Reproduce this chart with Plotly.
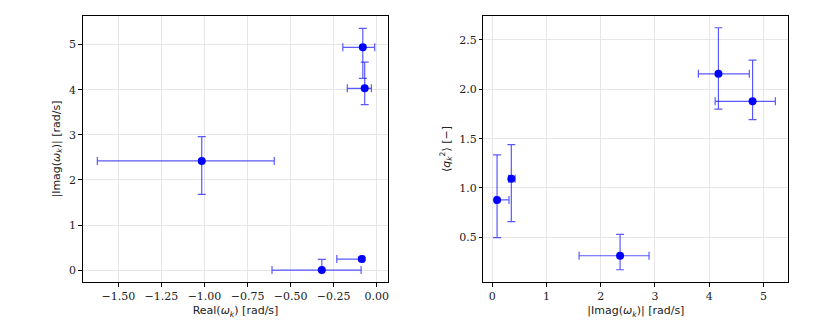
import plotly.graph_objects as go

# Left panel: Real(omega_k) vs |Imag(omega_k)|
real_w = [-0.081, -0.070, -1.016, -0.087, -0.319]
real_err_plus = [0.069, 0.039, 0.421, 0.012, 0.228]
real_err_minus = [0.116, 0.101, 0.606, 0.145, 0.289]
imag_w_left = [4.94, 4.03, 2.42, 0.244, 0.0]
imag_left_err_plus = [0.42, 0.58, 0.54, 0.04, 0.237]
imag_left_err_minus = [0.69, 0.36, 0.74, 0.02, 0.0]

# Right panel: |Imag(omega_k)| vs <q_k^2>
imag_w_right = [0.087, 0.35, 2.356, 4.17, 4.80]
imag_right_err_plus = [0.22, 0.07, 0.534, 0.57, 0.42]
imag_right_err_minus = [0.03, 0.05, 0.756, 0.37, 0.69]
q2 = [0.879, 1.093, 0.313, 2.157, 1.878]
q2_err_plus = [0.457, 0.347, 0.217, 0.467, 0.417]
q2_err_minus = [0.383, 0.434, 0.142, 0.357, 0.185]

left_xticks = [-1.5, -1.25, -1.0, -0.75, -0.5, -0.25, 0.0]
left_yticks = [0, 1, 2, 3, 4, 5]
right_xticks = [0, 1, 2, 3, 4, 5]
right_yticks = [0.5, 1.0, 1.5, 2.0, 2.5]

BLUE = "#0000ff"
EBAR = "rgba(0,0,255,0.65)"

fig = go.Figure()

def err(plus, minus):
    return dict(type="data", symmetric=False, array=plus, arrayminus=minus,
                color=EBAR, thickness=1.2, width=4)

fig.add_trace(go.Scatter(
    x=real_w, y=imag_w_left, mode="markers",
    marker=dict(color=BLUE, size=8),
    error_x=err(real_err_plus, real_err_minus),
    error_y=err(imag_left_err_plus, imag_left_err_minus),
    xaxis="x", yaxis="y", showlegend=False))

fig.add_trace(go.Scatter(
    x=imag_w_right, y=q2, mode="markers",
    marker=dict(color=BLUE, size=8),
    error_x=err(imag_right_err_plus, imag_right_err_minus),
    error_y=err(q2_err_plus, q2_err_minus),
    xaxis="x2", yaxis="y2", showlegend=False))

tickfont = dict(family="DejaVu Serif", size=11, color="#222")
titlefont = dict(family="DejaVu Sans", size=11, color="#222")

common = dict(showline=True, linecolor="black", linewidth=1, mirror=True,
              ticks="outside", ticklen=3.5, tickcolor="black", tickwidth=1,
              showgrid=True, gridcolor="#e6e6e6", gridwidth=1, zeroline=False,
              tickfont=tickfont)

YDOM = [0.1738, 0.9768]

fig.update_layout(
    width=830, height=332,
    margin=dict(l=0, r=0, t=0, b=0),
    paper_bgcolor="white", plot_bgcolor="white",
    xaxis=dict(domain=[0.0900, 0.4582], range=[-1.707, 0.067],
               tickvals=left_xticks, tickformat=".2f",
               title=dict(text="Real(<i>ω</i><sub><i>k</i></sub>) [rad/s]", font=titlefont, standoff=4),
               anchor="y", **common),
    yaxis=dict(domain=YDOM, range=[-0.27, 5.64],
               tickvals=left_yticks, tickformat="d",
               title=dict(text="|Imag(<i>ω</i><sub><i>k</i></sub>)| [rad/s]", font=titlefont, standoff=6),
               anchor="x", **common),
    xaxis2=dict(domain=[0.5727, 0.9402], range=[-0.166, 5.46],
                tickvals=right_xticks, tickformat="d",
                title=dict(text="|Imag(<i>ω</i><sub><i>k</i></sub>)| [rad/s]", font=titlefont, standoff=4),
                anchor="y2", **common),
    yaxis2=dict(domain=YDOM, range=[0.044, 2.746],
                tickvals=right_yticks, tickformat=".1f",
                title=dict(text="⟨<i>q</i><sub><i>k</i></sub><sup>2</sup>⟩ [−]", font=titlefont, standoff=6),
                anchor="x2", **common),
)

fig.write_html("out.html")
